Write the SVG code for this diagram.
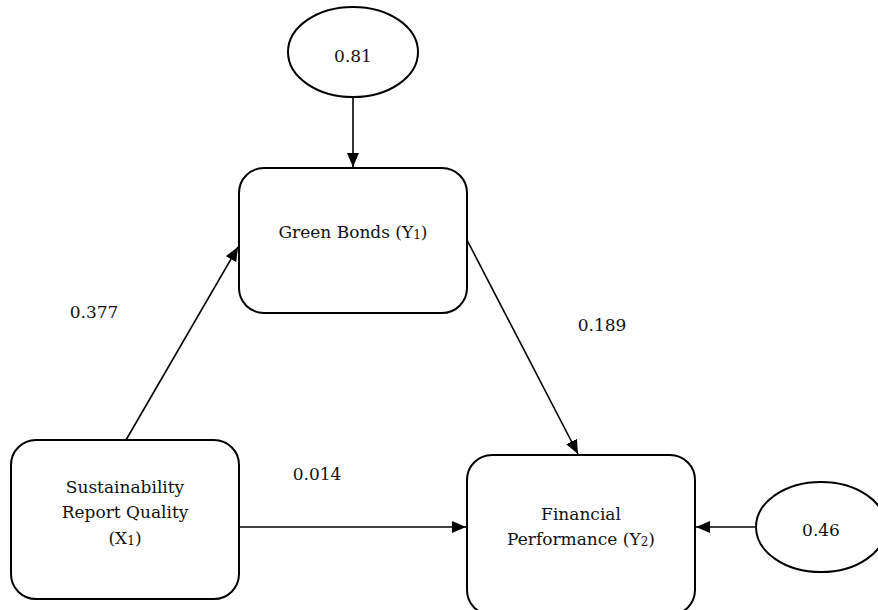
<svg xmlns="http://www.w3.org/2000/svg" width="878" height="610" viewBox="0 0 878 610">
<style>
.box{fill:#fff;stroke:#000;stroke-width:2}
.ell{fill:#fff;stroke:#000;stroke-width:2}
.t{font-family:"DejaVu Serif","Liberation Serif",serif;font-size:17px;fill:#111;text-anchor:middle}
.sub{font-size:12px}
.c{stroke:#000;stroke-width:1.6;fill:none;marker-end:url(#ah)}
</style>
<defs>
<marker id="ah" viewBox="0 0 14 12" refX="14" refY="6" markerWidth="14" markerHeight="12" markerUnits="userSpaceOnUse" orient="auto">
<path d="M0,0 L14,6 L0,12 Z" fill="#000"/>
</marker>
</defs>
<rect width="878" height="610" fill="#fff"/>
<g id="connectors">
<line class="c" x1="353" y1="98" x2="353" y2="167"/>
<line class="c" x1="126" y1="440" x2="238" y2="247"/>
<line class="c" x1="467" y1="240" x2="578" y2="454"/>
<line class="c" x1="239" y1="527" x2="466" y2="527"/>
<line class="c" x1="756" y1="527" x2="696" y2="527"/>
</g>
<g id="e1">
<ellipse class="ell" cx="353" cy="52" rx="65" ry="45"/>
<text class="t" x="353" y="62">0.81</text>
</g>
<g id="y1">
<rect class="box" x="239" y="168" width="228" height="145" rx="25"/>
<text class="t" x="353" y="238">Green Bonds (Y<tspan class="sub" dy="1">1</tspan><tspan dy="-1">)</tspan></text>
</g>
<g id="x1">
<rect class="box" x="11" y="440" width="228" height="159" rx="25"/>
<text class="t" x="125" y="493">Sustainability</text>
<text class="t" x="125" y="518">Report Quality</text>
<text class="t" x="125" y="544">(X<tspan class="sub" dy="1">1</tspan><tspan dy="-1">)</tspan></text>
</g>
<g id="y2">
<rect class="box" x="467" y="455" width="228" height="160" rx="25"/>
<text class="t" x="581" y="520">Financial</text>
<text class="t" x="581" y="545">Performance (Y<tspan class="sub" dy="1">2</tspan><tspan dy="-1">)</tspan></text>
</g>
<g id="e2">
<ellipse class="ell" cx="821" cy="527" rx="65" ry="45"/>
<text class="t" x="821" y="536">0.46</text>
</g>
<g id="labels">
<text class="t" x="94" y="318">0.377</text>
<text class="t" x="602" y="331">0.189</text>
<text class="t" x="317" y="480">0.014</text>
</g>
</svg>
